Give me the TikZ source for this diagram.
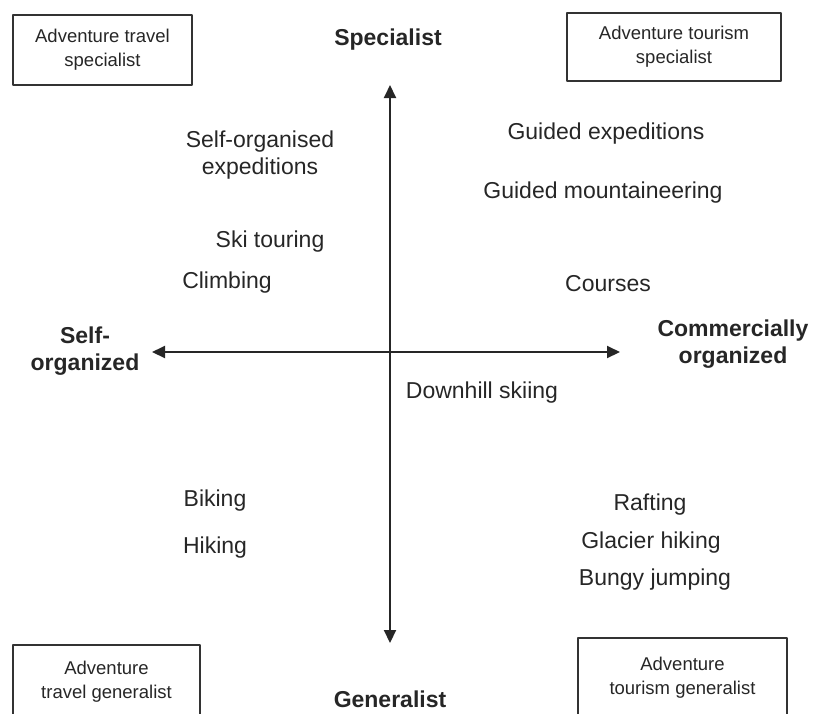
\documentclass[tikz,border=0pt]{standalone}
\usepackage{fontspec}
\setmainfont{Liberation Sans}
\usetikzlibrary{arrows.meta}
\begin{document}
\begin{tikzpicture}[x=1pt, y=-1pt, line cap=round, line join=round, >={Triangle[length=13pt,width=12pt]},
		font=\fontsize{23}{27}\selectfont, text=black!85]
	\tikzset{
		corner box/.style={draw=black!80, line width=2pt, align=center, inner sep=0pt,
			font=\fontsize{18.5}{24}\selectfont},
		pole label/.style={font=\fontsize{23}{27}\selectfont\bfseries, align=center},
		activity/.style={align=center}
	}
	\clip (0,0) rectangle (813,713);
	% corner boxes
	\node[corner box, minimum width=179pt, minimum height=70pt] (travelspec) at (102.5,50) {Adventure travel\\specialist};
	\node[corner box, minimum width=214pt, minimum height=68pt] (tourspec) at (674,47) {Adventure tourism\\specialist};
	\node[corner box, minimum width=187pt, minimum height=74pt] (travelgen) at (106.5,682) {Adventure\\travel generalist};
	\node[corner box, minimum width=209pt, minimum height=80pt] (tourgen) at (682.5,678) {Adventure\\tourism generalist};
	% axes
	\coordinate (top) at (390,85);
	\coordinate (bottom) at (390,643);
	\coordinate (left) at (152,352);
	\coordinate (right) at (620,352);
	\draw[<->, line width=2pt, black!85] (top) -- (bottom);
	\draw[<->, line width=2pt, black!85] (left) -- (right);
	% poles
	\node[pole label] (specialist) at (388,40) {Specialist};
	\node[pole label] (generalist) at (390,699) {Generalist};
	\node[pole label] (selforg) at (85,351) {Self-\\organized};
	\node[pole label] (commorg) at (733,344) {Commercially\\organized};
	% activities
	\node[activity] (selfexp) at (260,155) {Self-organised\\expeditions};
	\node[activity] (guidedexp) at (606,134) {Guided expeditions};
	\node[activity] (guidedmount) at (603,193) {Guided mountaineering};
	\node[activity] (skitour) at (270,242) {Ski touring};
	\node[activity] (climbing) at (227,283) {Climbing};
	\node[activity] (courses) at (608,284) {Courses};
	\node[activity] (downhill) at (482,393) {Downhill skiing};
	\node[activity] (biking) at (215,501) {Biking};
	\node[activity] (hiking) at (215,548) {Hiking};
	\node[activity] (rafting) at (650,505) {Rafting};
	\node[activity] (glacier) at (651,543) {Glacier hiking};
	\node[activity] (bungy) at (655,580) {Bungy jumping};
\end{tikzpicture}
\end{document}
